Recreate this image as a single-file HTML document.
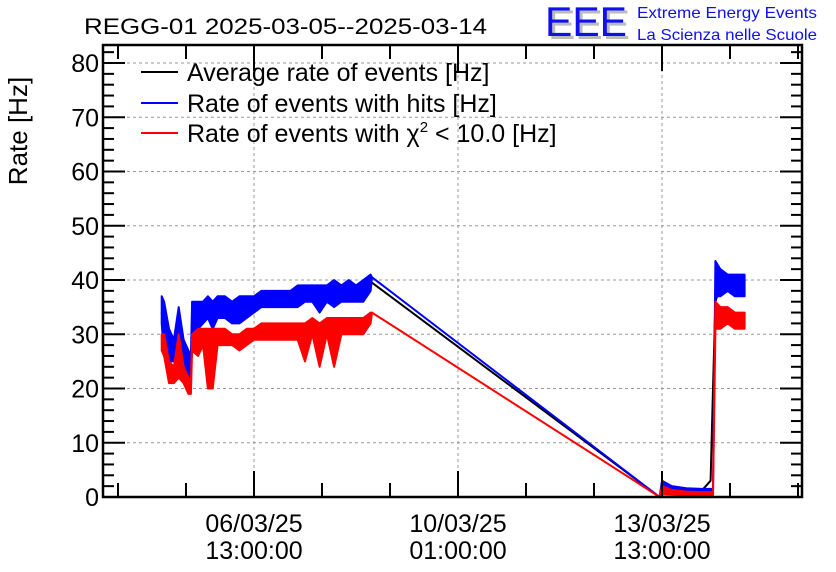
<!DOCTYPE html>
<html><head><meta charset="utf-8">
<style>
body{margin:0;background:#fff;}
svg{display:block;font-family:"Liberation Sans",sans-serif;}
</style></head>
<body>
<svg id="chart" width="836" height="572" viewBox="0 0 836 572">
  <text x="84" y="34" font-size="22" fill="#000" textLength="403" lengthAdjust="spacingAndGlyphs">REGG-01 2025-03-05--2025-03-14</text>
  <g>
    <text x="548" y="39" font-size="42" fill="#bbb" textLength="82" lengthAdjust="spacingAndGlyphs">EEE</text>
    <text x="545" y="36" font-size="42" fill="#1010ee" textLength="82" lengthAdjust="spacingAndGlyphs">EEE</text>
    <text x="637" y="18" font-size="16" fill="#1010ee" textLength="180" lengthAdjust="spacingAndGlyphs">Extreme Energy Events</text>
    <text x="637" y="40" font-size="16" fill="#1010ee" textLength="180" lengthAdjust="spacingAndGlyphs">La Scienza nelle Scuole</text>
  </g>
  <text transform="translate(27,131) rotate(-90)" text-anchor="middle" font-size="26">Rate [Hz]</text>
  <g id="grid"></g>
  <g id="series"></g>
  <g id="axes"></g>
  <g>
    <g><line x1="141" y1="72" x2="178" y2="72" stroke="#000" stroke-width="2"/><text x="187" y="81" font-size="25">Average rate of events [Hz]</text></g>
    <g><line x1="141" y1="103" x2="178" y2="103" stroke="#00f" stroke-width="2"/><text x="187" y="112" font-size="25">Rate of events with hits [Hz]</text></g>
    <g><line x1="141" y1="133" x2="178" y2="133" stroke="#f00" stroke-width="2"/><text x="187" y="142" font-size="25">Rate of events with χ<tspan font-size="15" dy="-10">2</tspan><tspan dy="10"> &lt; 10.0 [Hz]</tspan></text></g>
  </g>
</svg>
<script>
// hours relative to 06/03/25 13:00
const times   = [-38,-37,-35,-33,-31,-29,-27,-26,-25.5,-23,-21,-19,-17,-15,-12,-9,-6,-3,0,3,6,9,12,15,18,21,24,27,30,33,36,39,42,45,48,48.6,167,168,172,178,184,188,189,190,192,195,198,201,202];
const blueLo  = [32,26,25,25,26,25,22,22,30,31,32,33,31,33,33,32,32,33,34,35,35,35,35,35,35,36,36,34,36,35,36,36,36,36,38,40.5,0,1.5,1.2,1.0,1.0,1.0,1.0,37,37,38,37,37,37];
const blueHi  = [37,36,31,29,35,29,27,26,36,36,36,37,36,37,37,36,37,37,37,38,38,38,38,38,39,39,39,39,39,40,39,40,39,40,41,40.5,0,3,2,1.6,1.5,1.5,1.5,43.5,42,41,41,41,41];
const redLo   = [27,26,21,21,22,21,19,19,27,26,28,20,20,28,28,28,27,28,29,29,29,29,29,29,29,25,30,24,30,24,30,30,30,30,32,34,0,0.5,0.4,0.3,0.3,0.3,0.3,31,31,32,31,31,31];
const redHi   = [30,30,25,24,30,24,22,21,30,31,31,31,31,31,31,30,30,31,31,32,32,32,32,32,32,32,33,32,33,33,33,33,33,33,34,34,0,2,1.3,1.0,0.9,0.9,0.9,36,35,35,34,34,34];
const avgVals = [34,31,28,27,30,27,25,24,33,34,34,35,34,35,35,34,35,35,35.5,36.5,36.5,36.5,36.5,36.5,37,37.5,37.5,37,37.5,37.5,37.5,38,37.5,38,39.5,39.5,0,1.5,1.2,1,1,3,20,36,39,39,38,38,38];
const yTicks  = [0,10,20,30,40,50,60,70,80];
const xTickHours = [0,84,168];
const xTickLabels1 = ["06/03/25","10/03/25","13/03/25"];
const xTickLabels2 = ["13:00:00","01:00:00","13:00:00"];

const L=103,R=802,T=45,B=497;
const pxPerHour = 204/84;
function xs(t){return 254 + t*pxPerHour;}
function ys(v){return 497 - v*(434/80);}
const NS="http://www.w3.org/2000/svg";
function mk(tag,attrs,parent){const e=document.createElementNS(NS,tag);for(const k in attrs)e.setAttribute(k,attrs[k]);parent.appendChild(e);return e;}
const grid=document.getElementById('grid'),axes=document.getElementById('axes'),series=document.getElementById('series');

yTicks.forEach(v=>{
  if(v>0){const g=mk('line',{x1:L,x2:R,y1:ys(v),y2:ys(v),stroke:'#999','stroke-dasharray':'3,3','stroke-width':1},grid);
  
  }
  const t=mk('text',{x:99,y:ys(v)+9,'text-anchor':'end','font-size':25},axes);
  t.textContent=v;
  
  
  mk('line',{x1:L,x2:L+22,y1:ys(v),y2:ys(v),stroke:'#000','stroke-width':2},axes);
  mk('line',{x1:R,x2:R-22,y1:ys(v),y2:ys(v),stroke:'#000','stroke-width':2},axes);
  if(v<80){for(let k=1;k<5;k++){const yy=ys(v+2*k);if(yy<T)break;
    mk('line',{x1:L,x2:L+11,y1:yy,y2:yy,stroke:'#000','stroke-width':2},axes);
    mk('line',{x1:R,x2:R-11,y1:yy,y2:yy,stroke:'#000','stroke-width':2},axes);}}
});
mk('line',{x1:L,x2:L+11,y1:ys(82),y2:ys(82),stroke:'#000','stroke-width':2},axes);
mk('line',{x1:R,x2:R-11,y1:ys(82),y2:ys(82),stroke:'#000','stroke-width':2},axes);

xTickHours.forEach((h,i)=>{
  const x=xs(h);
  const g=mk('line',{x1:x,x2:x,y1:T,y2:B,stroke:'#999','stroke-dasharray':'3,3','stroke-width':1},grid);
  
  
  const t1=mk('text',{x:x,y:532,'text-anchor':'middle','font-size':25},axes);
  t1.textContent=xTickLabels1[i];
  
  
  const t2=mk('text',{x:x,y:559,'text-anchor':'middle','font-size':25},axes);
  t2.textContent=xTickLabels2[i];
  
  
});
for(let h=-56;h<=230;h+=28){const x=xs(h);if(x<L||x>R)continue;
  const big=(h%84===0);
  mk('line',{x1:x,x2:x,y1:B,y2:B-(big?26:14),stroke:'#000','stroke-width':2},axes);
  mk('line',{x1:x,x2:x,y1:T,y2:T+(big?26:14),stroke:'#000','stroke-width':2},axes);}
mk('rect',{x:L,y:T,width:R-L,height:B-T,fill:'none',stroke:'#000','stroke-width':2.5},axes);

function band(lo,hi,color,name){
  let pts=[];
  for(let i=0;i<times.length;i++)pts.push(xs(times[i]).toFixed(1)+','+ys(hi[i]).toFixed(1));
  for(let i=times.length-1;i>=0;i--)pts.push(xs(times[i]).toFixed(1)+','+ys(lo[i]).toFixed(1));
  const p=mk('polygon',{points:pts.join(' '),fill:color,stroke:color,'stroke-width':2,'stroke-linejoin':'round'},series);
  
  
}
const avgPts=times.map((t,i)=>xs(t).toFixed(1)+','+ys(avgVals[i]).toFixed(1)).join(' ');
const ap=mk('polyline',{points:avgPts,fill:'none',stroke:'#000','stroke-width':2},series);


band(blueLo,blueHi,'#00f','hits-rate-series');
band(redLo,redHi,'#f00','chi2-rate-series');
</script>
</body></html>
